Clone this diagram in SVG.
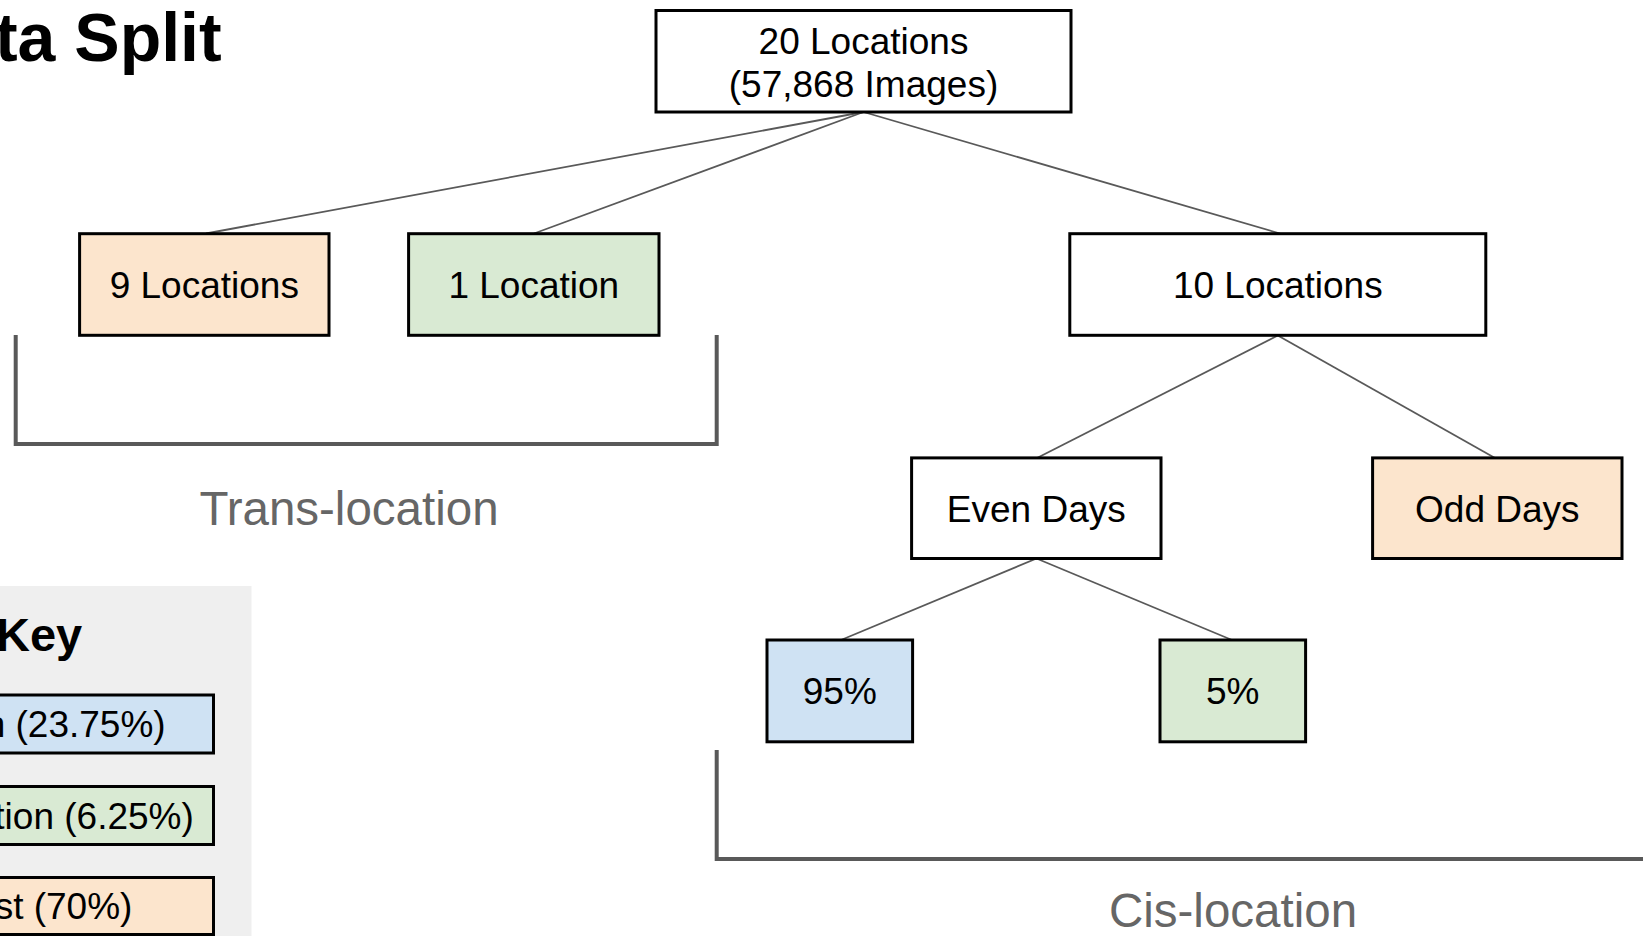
<svg xmlns="http://www.w3.org/2000/svg" width="1643" height="936" viewBox="0 0 1643 936">
<style>
text{font-family:"Liberation Sans",Arial,sans-serif;}
.box{stroke:#000;stroke-width:3;}
.w{fill:#ffffff;}
.peach{fill:#fce5cd;}
.green{fill:#d9ead3;}
.blue{fill:#cfe2f3;}
.lbl{font-size:37px;fill:#000;text-anchor:middle;}
.conn{stroke:#595959;stroke-width:1.8;fill:none;}
.brk{stroke:#595959;stroke-width:4;fill:none;}
.cap{font-size:47.5px;fill:#666666;text-anchor:middle;}
</style>
<rect x="0" y="0" width="1643" height="936" fill="#ffffff"/>
<g id="title"><text x="-92" y="61" font-size="68" font-weight="bold" fill="#000">Data Split</text></g>
<g id="key">
<rect x="-10" y="586" width="261.5" height="360" fill="#efefef"/>
<text x="-4" y="651" font-size="47" font-weight="bold" fill="#000">Key</text>
<g id="key-train"><rect class="box blue" x="-131" y="695" width="344.5" height="58"/><text class="lbl" x="44" y="737">Train (23.75%)</text></g>
<g id="key-val"><rect class="box green" x="-131" y="786.5" width="344.5" height="58"/><text class="lbl" x="44" y="829">Validation (6.25%)</text></g>
<g id="key-test"><rect class="box peach" x="-131" y="877.5" width="344.5" height="57"/><text class="lbl" x="44" y="919">Test (70%)</text></g>
</g>
<g id="connectors">
<line class="conn" x1="863.5" y1="112" x2="206" y2="233.5"/>
<line class="conn" x1="863.5" y1="112" x2="534" y2="233.5"/>
<line class="conn" x1="863.5" y1="112" x2="1280" y2="233.5"/>
<line class="conn" x1="1277.8" y1="335.5" x2="1037" y2="458"/>
<line class="conn" x1="1277.8" y1="335.5" x2="1495" y2="458"/>
<line class="conn" x1="1036.5" y1="558.5" x2="841" y2="640"/>
<line class="conn" x1="1036.5" y1="558.5" x2="1232" y2="640"/>
<path class="brk" d="M15.7 335 V444 H716.7 V335"/>
<path class="brk" d="M716.7 750 V859 H1650"/>
</g>
<g id="n-root"><rect class="box w" x="656" y="10.5" width="415" height="101.5"/><text class="lbl" x="863.5" y="54">20 Locations</text><text class="lbl" x="863.5" y="97">(57,868 Images)</text></g>
<g id="n-9loc"><rect class="box peach" x="79.6" y="233.7" width="249.4" height="101.6"/><text class="lbl" x="204.3" y="298">9 Locations</text></g>
<g id="n-1loc"><rect class="box green" x="408.6" y="233.7" width="250.4" height="101.6"/><text class="lbl" x="533.8" y="298">1 Location</text></g>
<g id="n-10loc"><rect class="box w" x="1069.8" y="233.7" width="416" height="101.6"/><text class="lbl" x="1277.8" y="298">10 Locations</text></g>
<g id="n-even"><rect class="box w" x="911.6" y="457.9" width="249.4" height="100.6"/><text class="lbl" x="1036.3" y="521.5">Even Days</text></g>
<g id="n-odd"><rect class="box peach" x="1372.6" y="457.9" width="249.4" height="100.6"/><text class="lbl" x="1497.3" y="521.5">Odd Days</text></g>
<g id="n-95"><rect class="box blue" x="767" y="640" width="145.6" height="101.8"/><text class="lbl" x="839.8" y="704">95%</text></g>
<g id="n-5"><rect class="box green" x="1160" y="640" width="145.6" height="101.8"/><text class="lbl" x="1232.8" y="704">5%</text></g>
<g id="captions">
<text class="cap" x="349" y="525">Trans-location</text>
<text class="cap" x="1233" y="927">Cis-location</text>
</g>
</svg>
